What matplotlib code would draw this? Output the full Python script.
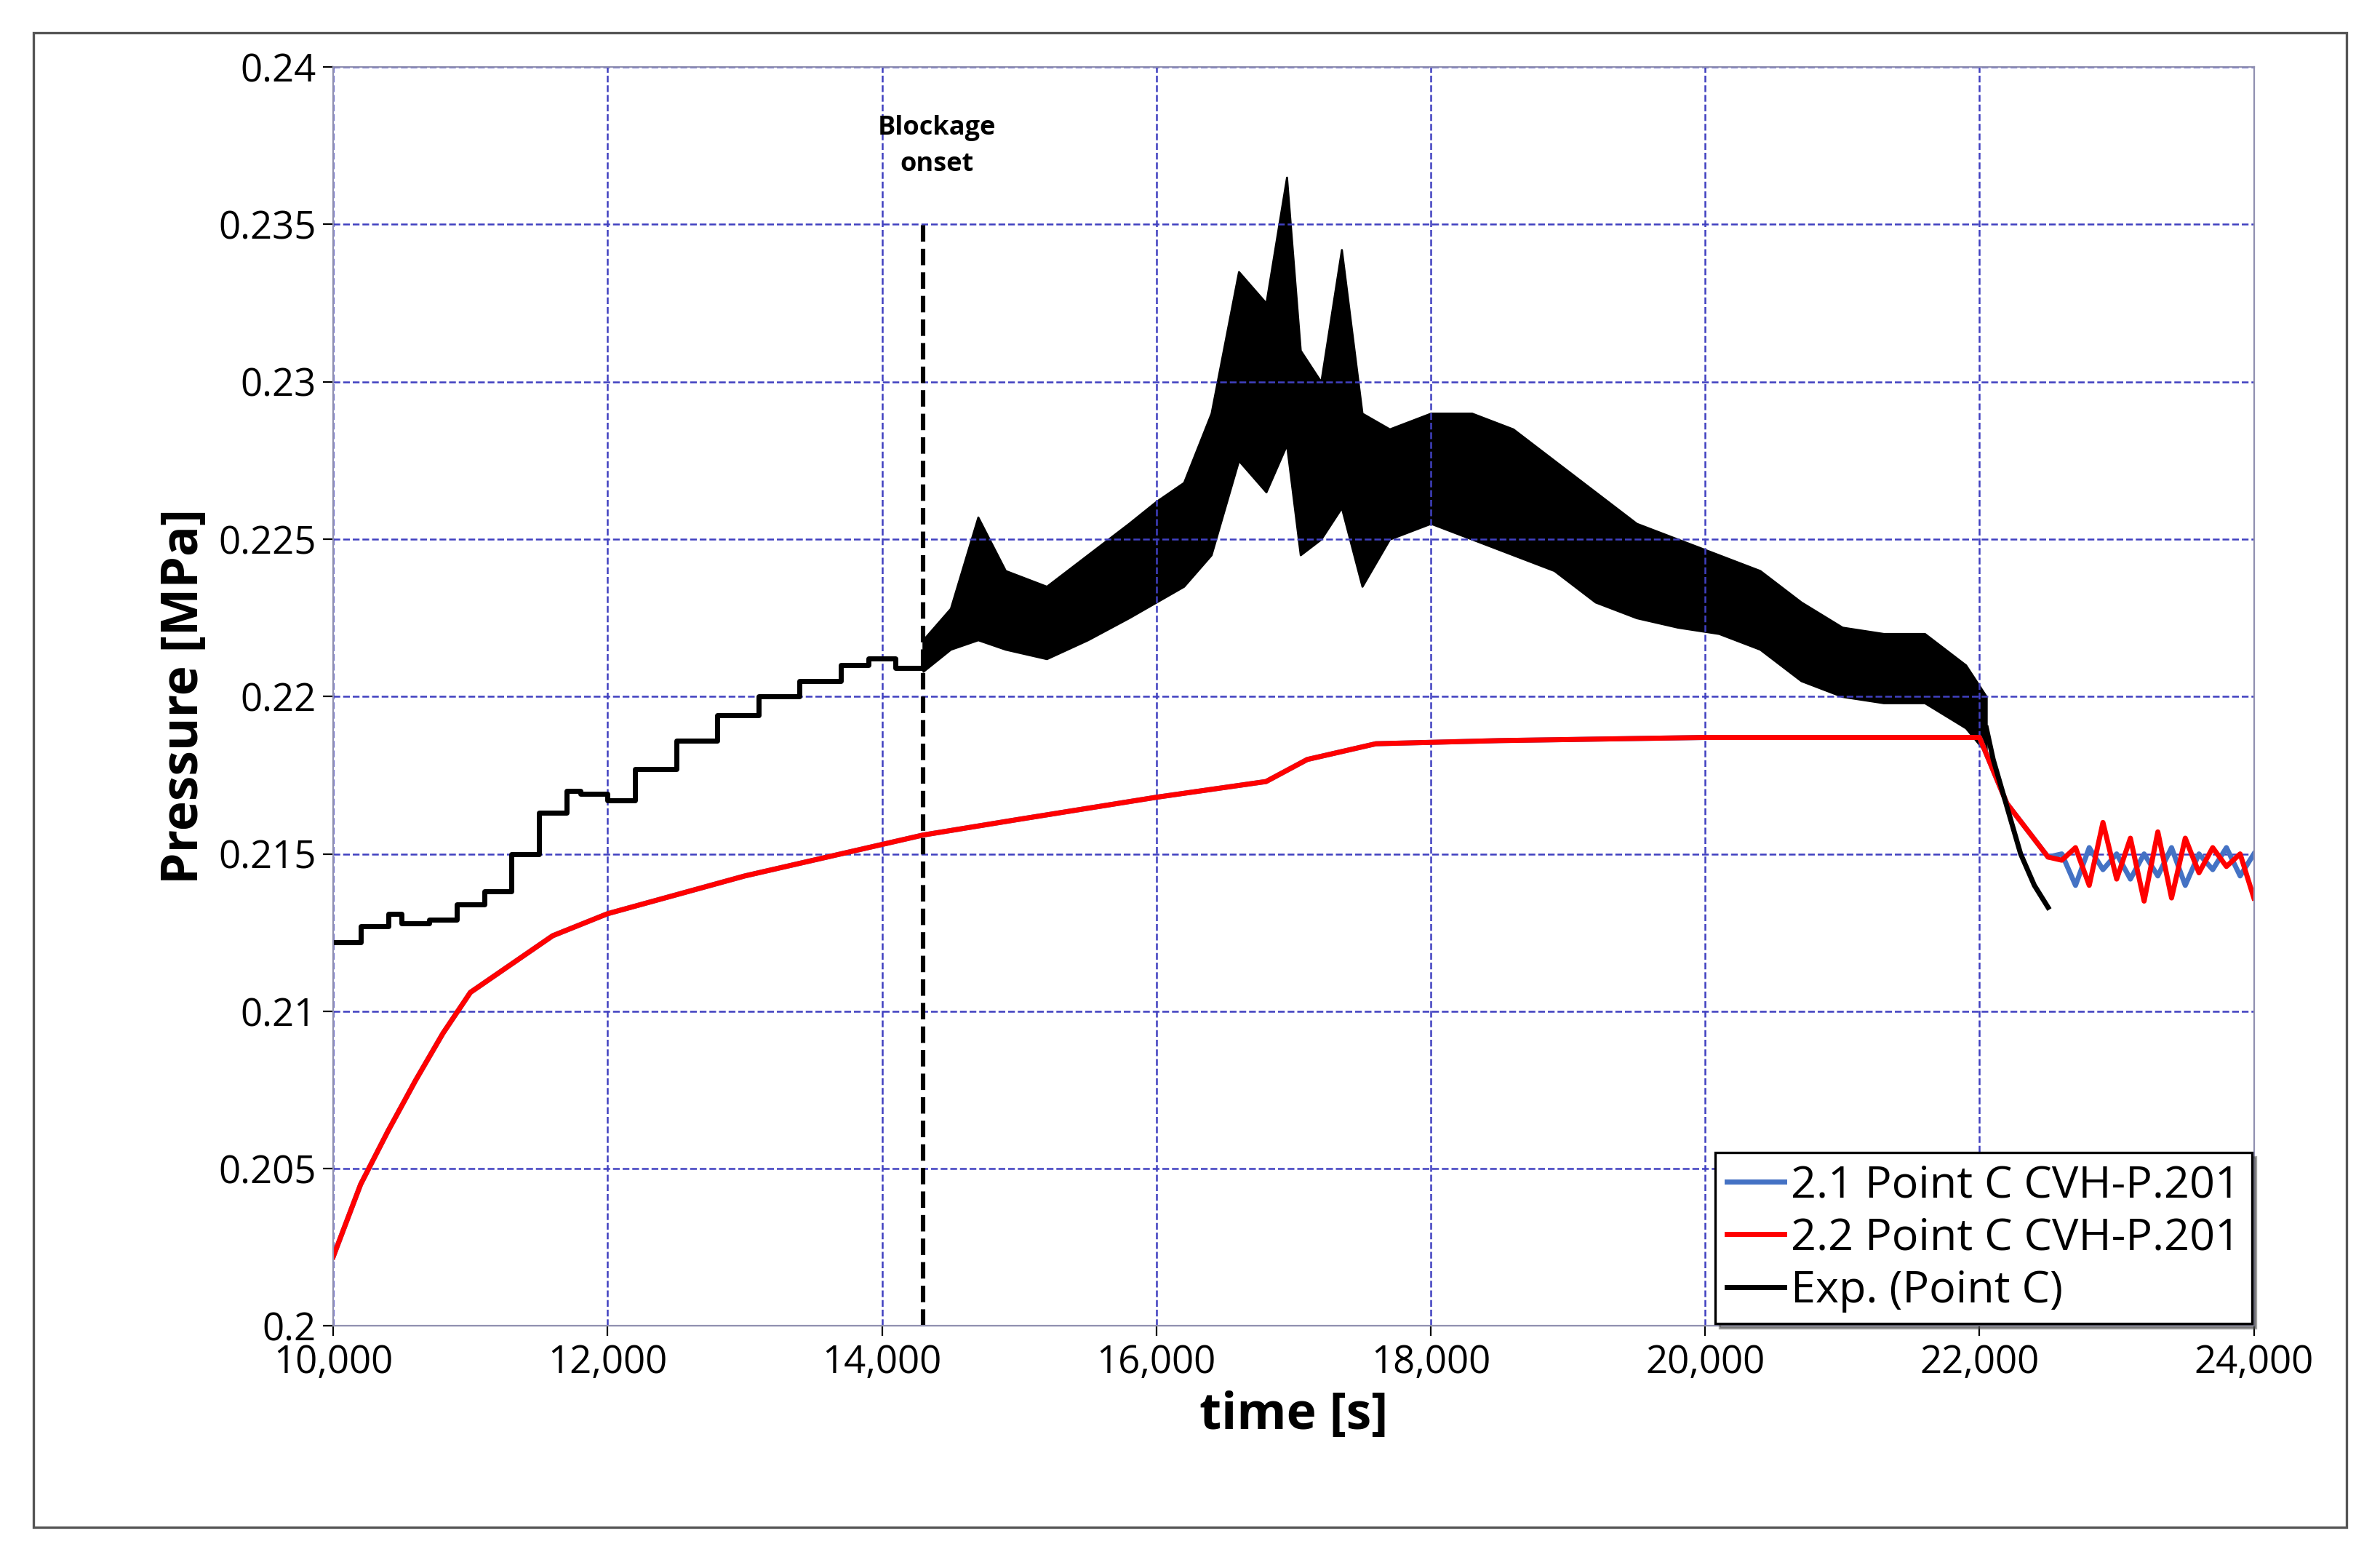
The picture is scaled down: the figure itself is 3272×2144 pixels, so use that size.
import matplotlib.pyplot as plt
from matplotlib.ticker import FuncFormatter, MultipleLocator
from matplotlib.patches import Rectangle

plt.rcParams['font.family'] = ['Open Sans', 'DejaVu Sans']

# --- Experimental data (Point C) ---
exp_t = [10000, 10150, 10200, 10300, 10400, 10500, 10700, 10900, 11100, 11300,
         11500, 11700, 11800, 12000, 12200, 12500, 12800, 13100, 13400, 13700,
         13900, 14100, 14300]
exp_p = [0.2122, 0.2122, 0.2127, 0.2127, 0.2131, 0.2128, 0.2129, 0.2134, 0.2138, 0.2150,
         0.2163, 0.2170, 0.2169, 0.2167, 0.2177, 0.2186, 0.2194, 0.2200, 0.2205, 0.2210,
         0.2212, 0.2209, 0.2213]

# noisy part: lower / upper envelope of the oscillations
band_t = [14300, 14500, 14700, 14900, 15200, 15500, 15800, 16000, 16200, 16400,
          16600, 16800, 16950, 17050, 17200, 17350, 17500, 17700, 18000, 18300,
          18600, 18900, 19200, 19500, 19800, 20100, 20400, 20700, 21000, 21300,
          21600, 21900, 22050]
band_lo = [0.2208, 0.2215, 0.2218, 0.2215, 0.2212, 0.2218, 0.2225, 0.2230, 0.2235, 0.2245,
           0.2275, 0.2265, 0.2280, 0.2245, 0.2250, 0.2260, 0.2235, 0.2250, 0.2255, 0.2250,
           0.2245, 0.2240, 0.2230, 0.2225, 0.2222, 0.2220, 0.2215, 0.2205, 0.2200, 0.2198,
           0.2198, 0.2190, 0.2182]
band_hi = [0.2218, 0.2228, 0.2257, 0.2240, 0.2235, 0.2245, 0.2255, 0.2262, 0.2268, 0.2290,
           0.2335, 0.2325, 0.2365, 0.2310, 0.2300, 0.2342, 0.2290, 0.2285, 0.2290, 0.2290,
           0.2285, 0.2275, 0.2265, 0.2255, 0.2250, 0.2245, 0.2240, 0.2230, 0.2222, 0.2220,
           0.2220, 0.2210, 0.2200]

tail_t = [22050, 22100, 22200, 22300, 22400, 22500]
tail_p = [0.2190, 0.2180, 0.2165, 0.2150, 0.2140, 0.2133]

# --- Simulations ---
sim_t = [10000, 10200, 10400, 10600, 10800, 11000, 11300, 11600, 12000, 12500,
         13000, 13500, 14000, 14300, 15000, 16000, 16800, 17100, 17600, 18500,
         20000, 22000, 22200, 22500]
sim_p = [0.2022, 0.2045, 0.2062, 0.2078, 0.2093, 0.2106, 0.2115, 0.2124, 0.2131, 0.2137,
         0.2143, 0.2148, 0.2153, 0.2156, 0.2161, 0.2168, 0.2173, 0.2180, 0.2185, 0.2186,
         0.2187, 0.2187, 0.2166, 0.2149]

osc_t = [22600, 22700, 22800, 22900, 23000, 23100, 23200, 23300, 23400, 23500,
         23600, 23700, 23800, 23900, 24000]
red_osc = [0.2148, 0.2152, 0.2140, 0.2160, 0.2142, 0.2155, 0.2135, 0.2157, 0.2136, 0.2155,
           0.2144, 0.2152, 0.2146, 0.2150, 0.2136]
blue_osc = [0.2150, 0.2140, 0.2152, 0.2145, 0.2150, 0.2142, 0.2150, 0.2143, 0.2152, 0.2140,
            0.2150, 0.2145, 0.2152, 0.2143, 0.2150]

blockage_t = 14300

fig = plt.figure(figsize=(16.36, 10.72), dpi=200)
fig.patches.append(Rectangle((0.014, 0.021), 0.972, 0.958, transform=fig.transFigure,
                             fill=False, edgecolor='#555555', lw=1.2))
ax = fig.add_axes([0.14, 0.15, 0.807, 0.807])

ax.plot(sim_t + osc_t, sim_p + blue_osc, color='#4472c4', lw=2.5, label='2.1 Point C CVH-P.201')
ax.plot(sim_t + osc_t, sim_p + red_osc, color='#ff0000', lw=2.5, label='2.2 Point C CVH-P.201')
ax.plot(exp_t, exp_p, color='black', lw=2.5, drawstyle='steps-post', label='Exp. (Point C)')
ax.fill_between(band_t, band_lo, band_hi, color='black', lw=1)
ax.plot(tail_t, tail_p, color='black', lw=2.5)

ax.plot([blockage_t, blockage_t], [0.2, 0.235], 'k--', lw=2.2)
ax.text(14400, 0.2365, 'Blockage\nonset', ha='center', va='bottom', fontsize=13,
        fontweight='bold', linespacing=1.5)

ax.set_xlim(10000, 24000)
ax.set_ylim(0.2, 0.24)
ax.xaxis.set_major_locator(MultipleLocator(2000))
ax.yaxis.set_major_locator(MultipleLocator(0.005))
ax.xaxis.set_major_formatter(FuncFormatter(lambda v, p: f'{int(v):,}'))
ax.yaxis.set_major_formatter(FuncFormatter(lambda v, p: f'{v:g}'))
ax.tick_params(labelsize=19, length=5, direction='out')
ax.grid(True, color='#4040c0', ls='--', lw=0.9)
for s in ax.spines.values():
    s.set_color('#9090b0')

ax.set_xlabel('time [s]', fontsize=25, fontweight='bold')
ax.set_ylabel('Pressure [MPa]', fontsize=25, fontweight='bold')

leg = ax.legend(loc='lower right', fontsize=22, fancybox=False, shadow=True,
                framealpha=1, edgecolor='black', handlelength=1.3, handletextpad=0.15,
                borderpad=0.25, labelspacing=0.2, borderaxespad=0.05)
leg.get_frame().set_linewidth(1.2)

fig.savefig('out.png', dpi=200)
